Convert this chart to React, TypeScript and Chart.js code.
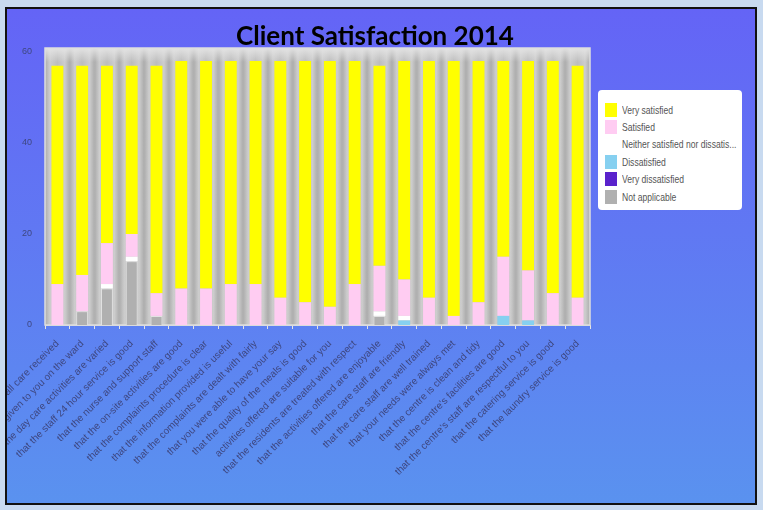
import React, { useEffect, useRef } from "react";
import { Chart, registerables } from "chart.js";

Chart.register(...registerables);

const categories: string[] = [
  "Satisfied with the overall care received",
  "Information given to you on the ward",
  "that the day care activities are varied",
  "that the staff 24 hour service is good",
  "that the nurse and support staff",
  "that the on-site activities are good",
  "that the complaints procedure is clear",
  "that the information provided is useful",
  "that the complaints are dealt with fairly",
  "that you were able to have your say",
  "that the quality of the meals is good",
  "activities offered are suitable for you",
  "that the residents are treated with respect",
  "that the activities offered are enjoyable",
  "that the care staff are friendly",
  "that the care staff are well trained",
  "that your needs were always met",
  "that the centre is clean and tidy",
  "that the centre's facilities are good",
  "that the centre's staff are respectful to you",
  "that the catering service is good",
  "that the laundry service is good",
];

const verySatisfied: number[] = [48, 46, 39, 37, 50, 50, 50, 49, 49, 52, 53, 54, 49, 44, 48, 52, 56, 53, 43, 46, 51, 51];
const satisfied: number[] = [9, 8, 9, 5, 5, 8, 8, 9, 9, 6, 5, 4, 9, 10, 8, 6, 2, 5, 13, 11, 7, 6];
const neither: number[] = [0, 0, 1, 1, 0, 0, 0, 0, 0, 0, 0, 0, 0, 1, 1, 0, 0, 0, 0, 0, 0, 0];
const dissatisfied: number[] = [0, 0, 0, 0, 0, 0, 0, 0, 0, 0, 0, 0, 0, 0, 1, 0, 0, 0, 2, 1, 0, 0];
const veryDissatisfied: number[] = [0, 0, 0, 0, 0, 0, 0, 0, 0, 0, 0, 0, 0, 0, 0, 0, 0, 0, 0, 0, 0, 0];
const notApplicable: number[] = [0, 3, 8, 14, 2, 0, 0, 0, 0, 0, 0, 0, 0, 2, 0, 0, 0, 0, 0, 0, 0, 0];

const seriesNames: string[] = [
  "Very satisfied",
  "Satisfied",
  "Neither satisfied nor dissatis...",
  "Dissatisfied",
  "Very dissatisfied",
  "Not applicable",
];
const seriesColors: string[] = ["#ffff00", "#ffccf2", "#ffffff", "#86d0f0", "#5a22cc", "#b0b0b0"];

const yTicks: number[] = [0, 20, 40, 60];

const plotBg = {
  id: "plotBg",
  beforeDraw(chart: any) {
    const { ctx, chartArea } = chart;
    const { left, right, top, bottom } = chartArea;
    const t = top - 4;
    ctx.save();
    ctx.fillStyle = "#bdbdbd";
    ctx.fillRect(left, t, right - left, bottom - t);
    const n = chart.data.labels.length;
    const w = (right - left) / n;
    for (let i = 0; i < n; i++) {
      const x0 = left + i * w;
      const g = ctx.createLinearGradient(x0, 0, x0 + w, 0);
      g.addColorStop(0, "#acacac");
      g.addColorStop(0.2, "#cdcdcd");
      g.addColorStop(0.5, "#bdbdbd");
      g.addColorStop(0.8, "#cdcdcd");
      g.addColorStop(1, "#acacac");
      ctx.fillStyle = g;
      ctx.fillRect(x0, t, w, bottom - t);
    }
    const tg = ctx.createLinearGradient(0, t, 0, t + 14);
    tg.addColorStop(0, "rgba(230,230,230,0.9)");
    tg.addColorStop(1, "rgba(230,230,230,0)");
    ctx.fillStyle = tg;
    ctx.fillRect(left, t, right - left, 14);
    ctx.strokeStyle = "#dedede";
    ctx.lineWidth = 1.5;
    ctx.strokeRect(left, t, right - left, bottom - t);
    ctx.restore();
  },
};

function App() {
  const ref = useRef<HTMLCanvasElement | null>(null);

  useEffect(() => {
    if (!ref.current) return;
    const stackOrder = [
      { data: notApplicable, idx: 5 },
      { data: veryDissatisfied, idx: 4 },
      { data: dissatisfied, idx: 3 },
      { data: neither, idx: 2 },
      { data: satisfied, idx: 1 },
      { data: verySatisfied, idx: 0 },
    ];
    const chart = new Chart(ref.current, {
      type: "bar",
      data: {
        labels: categories,
        datasets: stackOrder.map((s) => ({
          label: seriesNames[s.idx],
          data: s.data,
          backgroundColor: seriesColors[s.idx],
          borderColor: s.idx === 5 ? "#e2e2e2" : seriesColors[s.idx],
          borderWidth: s.idx === 5 ? 1 : 0,
          barPercentage: 0.48,
          categoryPercentage: 1,
        })),
      },
      options: {
        animation: false,
        responsive: false,
        maintainAspectRatio: false,
        layout: { padding: { left: 0, right: 165, top: 43, bottom: 0 } },
        plugins: {
          legend: { display: false },
          title: { display: false },
          tooltip: { enabled: false },
        },
        scales: {
          x: {
            stacked: true,
            grid: { drawOnChartArea: false, tickLength: 4, color: "#e4e4e4", offset: true },
            border: { display: true, color: "#dcdcdc" },
            ticks: {
              autoSkip: false,
              minRotation: 45,
              maxRotation: 45,
              padding: 9,
              color: "#3e4780",
              font: { family: "Liberation Sans, Arial, sans-serif", size: 10 },
            },
            afterFit(scale: any) {
              scale.height = 178;
              scale.paddingLeft = 0;
              scale.paddingRight = 0;
            },
          },
          y: {
            stacked: true,
            min: 0,
            max: 60,
            grid: { display: false },
            border: { display: false },
            afterBuildTicks(scale: any) {
              scale.ticks = yTicks.map((v) => ({ value: v }));
            },
            ticks: {
              padding: 5,
              color: "#3e4780",
              font: { family: "Liberation Sans, Arial, sans-serif", size: 9 },
            },
            afterFit(scale: any) {
              scale.width = 38;
            },
          },
        },
      },
      plugins: [plotBg],
    });
    return () => chart.destroy();
  }, []);

  return (
    <div style={{ position: "fixed", left: 0, top: 0, width: 763, height: 510, background: "#c8daf0" }}>
      <div
        style={{
          position: "absolute",
          left: 5,
          top: 7,
          width: 752,
          height: 498,
          boxSizing: "border-box",
          border: "2px solid #111",
          background: "linear-gradient(to bottom, #6464f6 0%, #6078f3 45%, #5a92ef 100%)",
          overflow: "hidden",
        }}
      >
        <canvas ref={ref} width={748} height={494} style={{ position: "absolute", left: 0, top: 0, width: 748, height: 494 }} />
        <div
          style={{
            position: "absolute",
            left: 368,
            top: 11,
            transform: "translateX(-50%)",
            whiteSpace: "nowrap",
            font: "bold 26px Lato, 'Open Sans', sans-serif",
            lineHeight: "30px",
            color: "#000",
          }}
        >
          Client Satisfaction 2014
        </div>
        <div
          style={{
            position: "absolute",
            left: 591,
            top: 81,
            width: 144,
            height: 120,
            background: "#ffffff",
            borderRadius: 4,
            boxSizing: "border-box",
            paddingTop: 11,
          }}
        >
          {seriesNames.map((name, i) => (
            <div key={name} style={{ display: "flex", alignItems: "center", height: 17.4 }}>
              <div style={{ width: 12, height: 14, marginLeft: 7, flexShrink: 0, background: seriesColors[i] }} />
              <div
                style={{
                  marginLeft: 5,
                  font: "11px 'Liberation Sans', Arial, sans-serif",
                  color: "#555",
                  whiteSpace: "nowrap",
                  transform: "scaleX(0.78)",
                  transformOrigin: "left center",
                }}
              >
                {name}
              </div>
            </div>
          ))}
        </div>
      </div>
    </div>
  );
}

export default App;
